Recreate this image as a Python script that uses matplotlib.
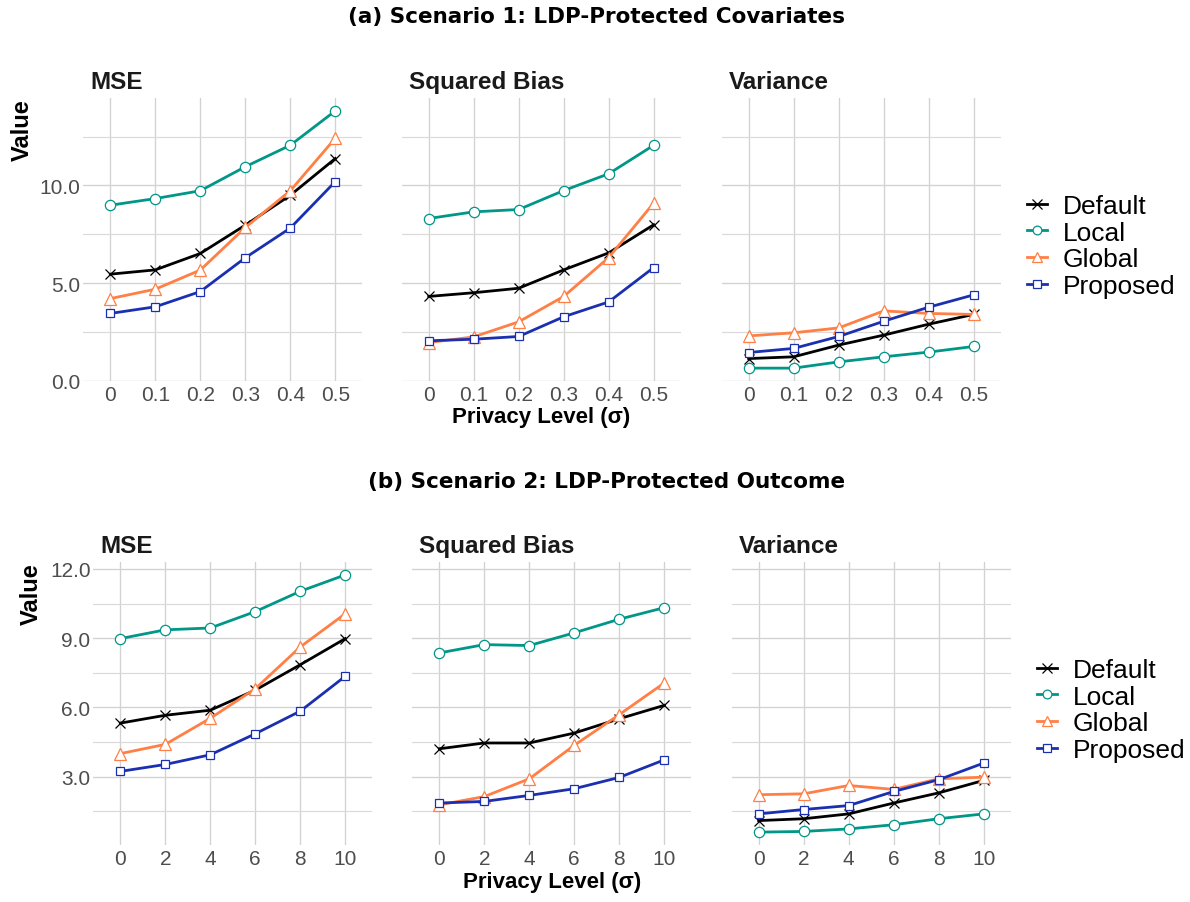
import matplotlib
matplotlib.use("Agg")
import matplotlib.pyplot as plt
from matplotlib.ticker import MultipleLocator, FormatStrFormatter
import numpy as np

plt.rcParams['font.family'] = ['Liberation Sans', 'DejaVu Sans']

methods = ["Default", "Local", "Global", "Proposed"]
metrics = ["MSE", "Squared Bias", "Variance"]

sigma_a = ["0", "0.1", "0.2", "0.3", "0.4", "0.5"]
sigma_b = ["0", "2", "4", "6", "8", "10"]

# Scenario 1: LDP-protected covariates
a_mse_default = [5.46, 5.68, 6.52, 7.97, 9.50, 11.38]
a_mse_local = [8.99, 9.33, 9.73, 10.96, 12.06, 13.82]
a_mse_global = [4.21, 4.69, 5.67, 7.85, 9.73, 12.42]
a_mse_proposed = [3.45, 3.79, 4.57, 6.30, 7.82, 10.20]

a_bias_default = [4.32, 4.51, 4.74, 5.68, 6.55, 7.99]
a_bias_local = [8.31, 8.65, 8.77, 9.74, 10.60, 12.06]
a_bias_global = [1.96, 2.25, 3.02, 4.32, 6.31, 9.10]
a_bias_proposed = [2.05, 2.13, 2.27, 3.28, 4.04, 5.80]

a_var_default = [1.14, 1.23, 1.83, 2.34, 2.90, 3.40]
a_var_local = [0.65, 0.65, 0.97, 1.23, 1.47, 1.76]
a_var_global = [2.30, 2.46, 2.71, 3.58, 3.45, 3.40]
a_var_proposed = [1.45, 1.66, 2.27, 3.05, 3.77, 4.40]

# Scenario 2: LDP-protected outcome
b_mse_default = [5.32, 5.66, 5.88, 6.75, 7.85, 8.98]
b_mse_local = [8.98, 9.36, 9.44, 10.15, 11.03, 11.74]
b_mse_global = [4.00, 4.40, 5.53, 6.81, 8.62, 10.06]
b_mse_proposed = [3.23, 3.53, 3.95, 4.86, 5.84, 7.35]

b_bias_default = [4.21, 4.46, 4.46, 4.89, 5.51, 6.09]
b_bias_local = [8.36, 8.72, 8.68, 9.23, 9.82, 10.32]
b_bias_global = [1.78, 2.14, 2.91, 4.36, 5.69, 7.06]
b_bias_proposed = [1.86, 1.93, 2.19, 2.48, 2.97, 3.73]

b_var_default = [1.10, 1.18, 1.39, 1.86, 2.30, 2.84]
b_var_local = [0.60, 0.63, 0.74, 0.92, 1.18, 1.39]
b_var_global = [2.22, 2.26, 2.62, 2.45, 2.91, 2.98]
b_var_proposed = [1.39, 1.58, 1.75, 2.36, 2.87, 3.59]

scen_a = {
    "MSE": [a_mse_default, a_mse_local, a_mse_global, a_mse_proposed],
    "Squared Bias": [a_bias_default, a_bias_local, a_bias_global, a_bias_proposed],
    "Variance": [a_var_default, a_var_local, a_var_global, a_var_proposed],
}
scen_b = {
    "MSE": [b_mse_default, b_mse_local, b_mse_global, b_mse_proposed],
    "Squared Bias": [b_bias_default, b_bias_local, b_bias_global, b_bias_proposed],
    "Variance": [b_var_default, b_var_local, b_var_global, b_var_proposed],
}

colors = ["#000000", "#009688", "#FF7F45", "#1A30B0"]
markers = ["x", "o", "^", "s"]
msizes = [7.8, 7.4, 8.8, 6.4]

W, H = 1190, 903
fig = plt.figure(figsize=(W / 100, H / 100), dpi=100)


def fx(px):
    return px / W


def fy(py):
    return 1 - py / H


def draw_row(data, ticks, lefts, top, bottom, major, minor, fmt, title, title_x,
             title_y, value_x, xlab_y, leg_x, leg_y):
    allv = np.concatenate([np.concatenate(v) for v in data.values()])
    lo, hi = allv.min(), allv.max()
    pad = 0.05 * (hi - lo)
    axes = []
    for i, (metric, left) in enumerate(zip(metrics, lefts)):
        ax = fig.add_axes([fx(left), fy(bottom), fx(279), (bottom - top) / H])
        axes.append(ax)
        xs = np.arange(len(ticks))
        for j, vals in enumerate(data[metric]):
            mfc = colors[j] if markers[j] == "x" else "white"
            ax.plot(xs, vals, color=colors[j], lw=2.0, marker=markers[j],
                    ms=msizes[j], mfc=mfc, mec=colors[j], mew=0.9,
                    label=methods[j], zorder=3 + j * 0.01)
        ax.set_xlim(-0.6, len(ticks) - 0.4)
        ax.set_ylim(lo - pad, hi + pad)
        ax.set_xticks(xs)
        ax.set_xticklabels(ticks)
        ax.yaxis.set_major_locator(MultipleLocator(major))
        ax.yaxis.set_minor_locator(MultipleLocator(minor))
        ax.yaxis.set_major_formatter(FormatStrFormatter(fmt))
        ax.grid(True, which="major", color="#D2D2D2", lw=0.95)
        ax.grid(True, which="minor", axis="y", color="#DADADA", lw=0.85)
        ax.set_axisbelow(True)
        for s in ax.spines.values():
            s.set_visible(False)
        ax.tick_params(axis="both", which="both", length=0, labelsize=15,
                       labelcolor="#4D4D4D")
        ax.tick_params(axis="x", pad=3)
        ax.tick_params(axis="y", pad=2)
        if i > 0:
            ax.tick_params(axis="y", labelleft=False)
        ax.annotate(metric, xy=(0, 1), xycoords="axes fraction", xytext=(5, 7.5),
                    textcoords="offset points", ha="left", va="baseline",
                    fontsize=17.5, fontweight="bold", color="#1A1A1A")
    fig.text(fx(title_x), fy(title_y), title, ha="center", va="center",
             fontsize=15.5, fontweight="bold", family=["DejaVu Sans"])
    fig.text(fx(value_x), fy(top), "Value", rotation=90, ha="center", va="top",
             fontsize=17, fontweight="bold")
    mid = lefts[1] + 279 / 2
    fig.text(fx(mid), fy(xlab_y), "Privacy Level (σ)", ha="center",
             va="center", fontsize=16, fontweight="bold")
    handles, labels = axes[0].get_legend_handles_labels()
    fig.legend(handles, labels, loc="center left",
               bbox_to_anchor=(fx(leg_x), fy(leg_y)), frameon=False,
               fontsize=19, handlelength=0.75, handletextpad=0.6,
               labelspacing=0.1, borderpad=0, borderaxespad=0,
               markerscale=0.85)
    return axes


draw_row(scen_a, sigma_a, [83.3, 401.7, 721.7], 99, 382, 5.0, 2.5, "%.1f",
         "(a) Scenario 1: LDP-Protected Covariates", 596, 17, 22, 418, 1027, 247)
draw_row(scen_b, sigma_b, [93.3, 412.3, 731.7], 563, 846, 3.0, 1.5, "%.1f",
         "(b) Scenario 2: LDP-Protected Outcome", 607, 482, 31.5, 883, 1037, 711)

fig.savefig("out.png", dpi=100)
